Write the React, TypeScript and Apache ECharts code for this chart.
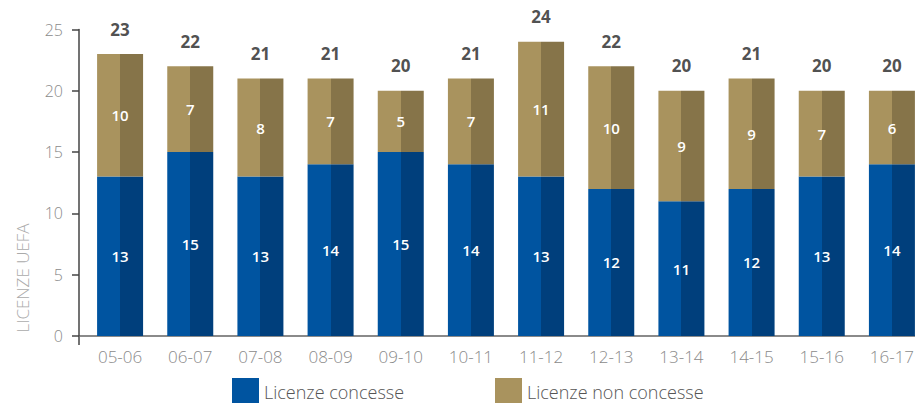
import React, { useEffect, useRef } from "react";
import * as echarts from "echarts";

const categories = ["05-06", "06-07", "07-08", "08-09", "09-10", "10-11", "11-12", "12-13", "13-14", "14-15", "15-16", "16-17"];
const granted = [13, 15, 13, 14, 15, 14, 13, 12, 11, 12, 13, 14];
const denied = [10, 7, 8, 7, 5, 7, 11, 10, 9, 9, 7, 6];
const yTicks = [0, 5, 10, 15, 20, 25];
const seriesNames = ["Licenze concesse", "Licenze non concesse"];
const axisName = "LICENZE UEFA";

const totals = granted.map((g, i) => g + denied[i]);

const split = (a: string, b: string) => ({
  type: "linear",
  x: 0,
  y: 0,
  x2: 1,
  y2: 0,
  colorStops: [
    { offset: 0, color: a },
    { offset: 0.5, color: a },
    { offset: 0.5, color: b },
    { offset: 1, color: b },
  ],
});

const BLUE_L = "#0054A0";
const BLUE_D = "#003F7C";
const GOLD_L = "#A9935E";
const GOLD_D = "#867449";
const FONT = "'Open Sans', sans-serif";

export default function App() {
  const ref = useRef<HTMLDivElement>(null);
  useEffect(() => {
    if (!ref.current) return;
    const chart = echarts.init(ref.current, null, { renderer: "svg" });
    const innerLabel = {
      show: true,
      position: "inside",
      color: "#ffffff",
      fontSize: 15,
      fontWeight: 600,
      fontFamily: FONT,
    };
    const legendText = { fontSize: 18, color: "#555", fontFamily: FONT, fontWeight: 300 };
    chart.setOption({
      animation: false,
      grid: { left: 85, top: 29.5, right: 0, height: 306.5 },
      legend: [
        {
          left: 232,
          top: 378,
          padding: 0,
          itemWidth: 27,
          itemHeight: 27,
          textStyle: legendText,
          data: [{ name: seriesNames[0], icon: "rect", itemStyle: { color: BLUE_L } }],
        },
        {
          left: 495,
          top: 378,
          padding: 0,
          itemWidth: 27,
          itemHeight: 27,
          textStyle: legendText,
          data: [{ name: seriesNames[1], icon: "rect", itemStyle: { color: GOLD_L } }],
        },
      ],
      xAxis: {
        type: "category",
        data: categories,
        axisLine: { lineStyle: { color: "#8a8a8a", width: 2 } },
        axisTick: { show: false },
        axisLabel: { color: "#8a8a8a", fontSize: 17, margin: 12, fontFamily: FONT, fontWeight: 300 },
      },
      yAxis: {
        type: "value",
        min: yTicks[0],
        max: yTicks[yTicks.length - 1],
        interval: 5,
        offset: 6,
        axisLine: { show: true, lineStyle: { color: "#444", width: 1.5 } },
        axisTick: { show: true, length: 7, lineStyle: { color: "#444", width: 1.5 } },
        splitLine: { show: false },
        axisLabel: { color: "#8a8a8a", fontSize: 16, margin: 16, fontFamily: FONT, fontWeight: 300 },
      },
      graphic: [
        { type: "line", shape: { x1: 79, y1: 336, x2: 79, y2: 345 }, style: { stroke: "#444", lineWidth: 1.5 } },
        { type: "line", shape: { x1: 79, y1: 336, x2: 86, y2: 336 }, style: { stroke: "#8a8a8a", lineWidth: 2 } },
        {
          type: "text",
          x: 22,
          y: 278,
          rotation: Math.PI / 2,
          style: {
            text: axisName,
            fill: "#aaaaaa",
            fontSize: 17,
            fontWeight: 300,
            fontFamily: FONT,
            textAlign: "center",
            textVerticalAlign: "middle",
          },
        },
      ],
      series: [
        {
          name: seriesNames[0],
          type: "bar",
          stack: "t",
          barWidth: 46,
          data: granted,
          itemStyle: { color: split(BLUE_L, BLUE_D) },
          label: innerLabel,
        },
        {
          name: seriesNames[1],
          type: "bar",
          stack: "t",
          barWidth: 46,
          data: denied,
          itemStyle: { color: split(GOLD_L, GOLD_D) },
          label: innerLabel,
        },
        {
          name: "totale",
          type: "scatter",
          data: totals,
          symbolSize: 1,
          itemStyle: { color: "rgba(0,0,0,0)" },
          label: {
            show: true,
            position: "top",
            distance: 16,
            color: "#222",
            fontSize: 17,
            fontWeight: "bold",
            fontFamily: FONT,
          },
          silent: true,
        },
      ],
    });
    return () => chart.dispose();
  }, []);
  return (
    <div style={{ position: "absolute", left: 0, top: 0, width: 915, height: 403, overflow: "hidden" }}>
      <div ref={ref} style={{ width: 927, height: 403 }} />
    </div>
  );
}
